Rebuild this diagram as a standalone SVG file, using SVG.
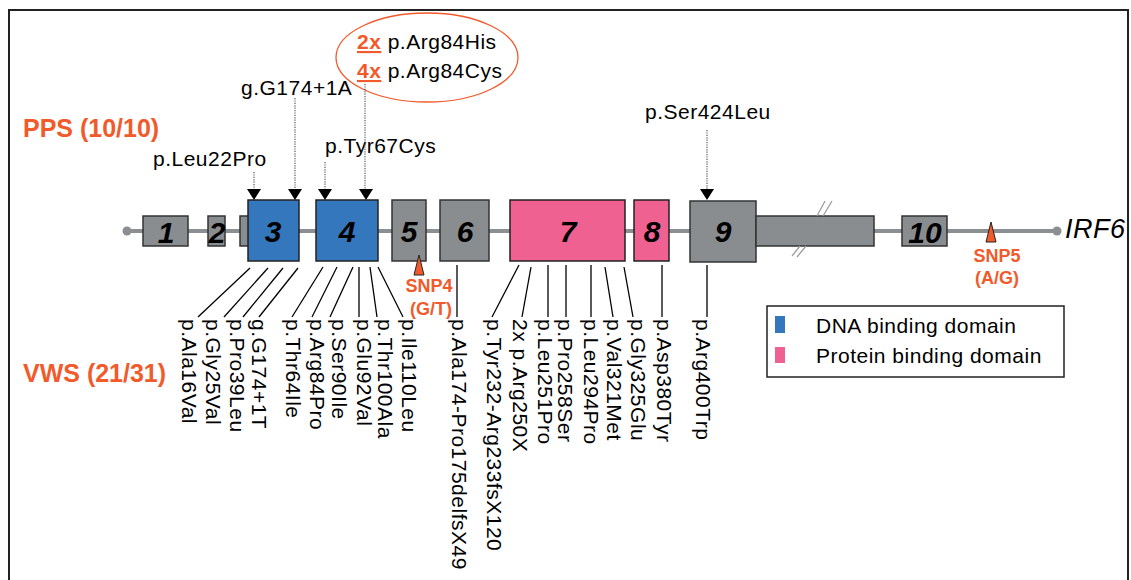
<svg xmlns="http://www.w3.org/2000/svg" width="1131" height="580" viewBox="0 0 1131 580">
<style>
  text{font-family:"Liberation Sans",Arial,sans-serif;}
  .lbl{font-size:21px;letter-spacing:0.5px;fill:#000;}
  .ex{font-size:30px;font-weight:bold;font-style:italic;fill:#000;text-anchor:middle;}
  .grey{fill:#8a8d8f;stroke:#333;stroke-width:1.5;}
  .blue{fill:#3577bd;stroke:#222;stroke-width:1.5;}
  .pink{fill:#ef6191;stroke:#222;stroke-width:1.5;}
  .orange{fill:#f15a2b;font-weight:bold;}
  .lead{stroke:#000;stroke-width:1.3;fill:none;}
  .dot{stroke:#555;stroke-width:1.2;stroke-dasharray:1.2 1.2;fill:none;}
  .arr{fill:#000;}
  .snp{fill:#f15a2b;stroke:#222;stroke-width:1;}
  .brk{stroke:#9a9c9e;stroke-width:1.3;}
</style>
<rect x="0" y="0" width="1131" height="580" fill="#fff"/>
<path d="M9,580 V10 H1128 V580" fill="none" stroke="#222" stroke-width="2"/>

<g id="backbone">
  <line x1="127" y1="231" x2="1057" y2="231" stroke="#8c8f91" stroke-width="4"/>
  <circle cx="127" cy="231" r="4.5" fill="#8c8f91"/>
  <circle cx="1057" cy="231" r="4.5" fill="#8c8f91"/>
</g>

<g id="exon1"><rect class="grey" x="143" y="216" width="45" height="30"/><text class="ex" x="166" y="243">1</text></g>
<g id="exon2"><rect class="grey" x="208" y="216" width="17" height="30"/><text class="ex" x="217" y="243">2</text></g>
<g id="exon3a"><rect class="grey" x="240" y="216" width="9" height="30"/></g>
<g id="exon3"><rect class="blue" x="248" y="200" width="51" height="61"/><text class="ex" x="273" y="242">3</text></g>
<g id="exon4"><rect class="blue" x="316" y="200" width="62" height="61"/><text class="ex" x="347" y="242">4</text></g>
<g id="exon5"><rect class="grey" x="392" y="200" width="34" height="61"/><text class="ex" x="409" y="242">5</text></g>
<g id="exon6"><rect class="grey" x="440" y="200" width="49" height="61"/><text class="ex" x="465" y="242">6</text></g>
<g id="exon7"><rect class="pink" x="510" y="200" width="115" height="61"/><text class="ex" x="568" y="242">7</text></g>
<g id="exon8"><rect class="pink" x="634" y="200" width="35" height="61"/><text class="ex" x="652" y="242">8</text></g>
<g id="exon9"><rect class="grey" x="690" y="201" width="66" height="61"/><text class="ex" x="723" y="242">9</text></g>
<g id="utr">
  <rect class="grey" x="756" y="216" width="118" height="30"/>
  <line class="brk" x1="817" y1="216" x2="825" y2="201"/>
  <line class="brk" x1="823" y1="216" x2="832" y2="201"/>
  <line class="brk" x1="792" y1="256" x2="800" y2="246"/>
  <line class="brk" x1="797" y1="257" x2="806" y2="246"/>
</g>
<g id="exon10"><rect class="grey" x="902" y="216" width="45" height="30"/><text class="ex" x="925" y="243">10</text></g>
<g id="gene-label"><text x="1065" y="238" style="font-size:27px;font-style:italic;letter-spacing:0.5px">IRF6</text></g>

<g id="snp4">
  <polygon class="snp" points="419,255 424,275 414,275"/>
  <text class="orange" x="429" y="292" style="font-size:18px" text-anchor="middle">SNP4</text>
  <text class="orange" x="431" y="315" style="font-size:18px" text-anchor="middle">(G/T)</text>
</g>
<g id="snp5">
  <polygon class="snp" points="991,222 996,242 986,242"/>
  <text class="orange" x="997" y="262" style="font-size:18px" text-anchor="middle">SNP5</text>
  <text class="orange" x="997" y="284" style="font-size:18px" text-anchor="middle">(A/G)</text>
</g>

<g id="pps-title"><text class="orange" x="23" y="137" style="font-size:25px">PPS (10/10)</text></g>
<g id="vws-title"><text class="orange" x="23" y="382" style="font-size:25px">VWS (21/31)</text></g>

<g id="pps-labels">
  <ellipse cx="427" cy="57.5" rx="91" ry="44.5" fill="none" stroke="#f15a2b" stroke-width="1.3"/>
  <text class="lbl" x="357" y="49"><tspan class="orange" text-decoration="underline">2x</tspan> p.Arg84His</text>
  <text class="lbl" x="357" y="78"><tspan class="orange" text-decoration="underline">4x</tspan> p.Arg84Cys</text>
  <text class="lbl" x="241" y="95">g.G174+1A</text>
  <text class="lbl" x="325" y="153">p.Tyr67Cys</text>
  <text class="lbl" x="153" y="166">p.Leu22Pro</text>
  <text class="lbl" x="645" y="119">p.Ser424Leu</text>
</g>

<g id="connectors">
  <line class="dot" x1="254" y1="172" x2="254" y2="190"/>
  <line class="dot" x1="295" y1="98" x2="295" y2="190"/>
  <line class="dot" x1="325" y1="162" x2="325" y2="190"/>
  <line class="dot" x1="365" y1="84" x2="365" y2="190"/>
  <line class="dot" x1="707" y1="130" x2="707" y2="190"/>
  <polygon class="arr" points="247,189 261,189 254,200"/>
  <polygon class="arr" points="288,189 302,189 295,200"/>
  <polygon class="arr" points="318,189 332,189 325,200"/>
  <polygon class="arr" points="359,189 373,189 366,200"/>
  <polygon class="arr" points="700,189 714,189 707,200"/>

  <line class="lead" x1="250" y1="268" x2="198" y2="317"/>
  <line class="lead" x1="268" y1="268" x2="224" y2="317"/>
  <line class="lead" x1="283" y1="268" x2="243" y2="317"/>
  <line class="lead" x1="298" y1="268" x2="259" y2="317"/>
  <line class="lead" x1="323" y1="267" x2="292" y2="317"/>
  <line class="lead" x1="337" y1="267" x2="312" y2="317"/>
  <line class="lead" x1="353" y1="267" x2="330" y2="317"/>
  <line class="lead" x1="359" y1="267" x2="359" y2="317"/>
  <line class="lead" x1="370" y1="267" x2="377" y2="317"/>
  <line class="lead" x1="378" y1="267" x2="403" y2="317"/>
  <line class="lead" x1="457" y1="265" x2="457" y2="317"/>
  <line class="lead" x1="519" y1="265" x2="492" y2="317"/>
  <line class="lead" x1="531" y1="267" x2="522" y2="317"/>
  <line class="lead" x1="548" y1="265" x2="548" y2="317"/>
  <line class="lead" x1="566" y1="265" x2="566" y2="317"/>
  <line class="lead" x1="591" y1="265" x2="591" y2="317"/>
  <line class="lead" x1="605" y1="267" x2="613" y2="317"/>
  <line class="lead" x1="624" y1="267" x2="633" y2="317"/>
  <line class="lead" x1="662" y1="265" x2="662" y2="317"/>
  <line class="lead" x1="707" y1="265" x2="707" y2="317"/>
</g>

<g id="vws-labels">
  <text class="lbl" transform="translate(182,319) rotate(90)">p.Ala16Val</text>
  <text class="lbl" transform="translate(206,319) rotate(90)">p.Gly25Val</text>
  <text class="lbl" transform="translate(230,319) rotate(90)">p.Pro39Leu</text>
  <text class="lbl" transform="translate(252,319) rotate(90)">g.G174+1T</text>
  <text class="lbl" transform="translate(286,319) rotate(90)">p.Thr64Ile</text>
  <text class="lbl" transform="translate(310,319) rotate(90)">p.Arg84Pro</text>
  <text class="lbl" transform="translate(332,319) rotate(90)">p.Ser90Ile</text>
  <text class="lbl" transform="translate(357,319) rotate(90)">p.Glu92Val</text>
  <text class="lbl" transform="translate(378,319) rotate(90)">p.Thr100Ala</text>
  <text class="lbl" transform="translate(402,319) rotate(90)">p.Ile110Leu</text>
  <text class="lbl" transform="translate(452,319) rotate(90)">p.Ala174-Pro175delfsX49</text>
  <text class="lbl" transform="translate(487,319) rotate(90)">p.Tyr232-Arg233fsX120</text>
  <text class="lbl" transform="translate(513,319) rotate(90)">2x p.Arg250X</text>
  <text class="lbl" transform="translate(538,319) rotate(90)">p.Leu251Pro</text>
  <text class="lbl" transform="translate(558,319) rotate(90)">p.Pro258Ser</text>
  <text class="lbl" transform="translate(584,319) rotate(90)">p.Leu294Pro</text>
  <text class="lbl" transform="translate(607,319) rotate(90)">p.Val321Met</text>
  <text class="lbl" transform="translate(631,319) rotate(90)">p.Gly325Glu</text>
  <text class="lbl" transform="translate(657,319) rotate(90)">p.Asp380Tyr</text>
  <text class="lbl" transform="translate(696,319) rotate(90)">p.Arg400Trp</text>
</g>

<g id="legend">
  <rect x="767" y="306" width="297" height="71" fill="#fff" stroke="#222" stroke-width="1.5"/>
  <rect x="775" y="316" width="10" height="17" fill="#3577bd"/>
  <rect x="775" y="347" width="10" height="16" fill="#ef6191"/>
  <text class="lbl" x="816" y="333">DNA binding domain</text>
  <text class="lbl" x="816" y="363">Protein binding domain</text>
</g>
</svg>
